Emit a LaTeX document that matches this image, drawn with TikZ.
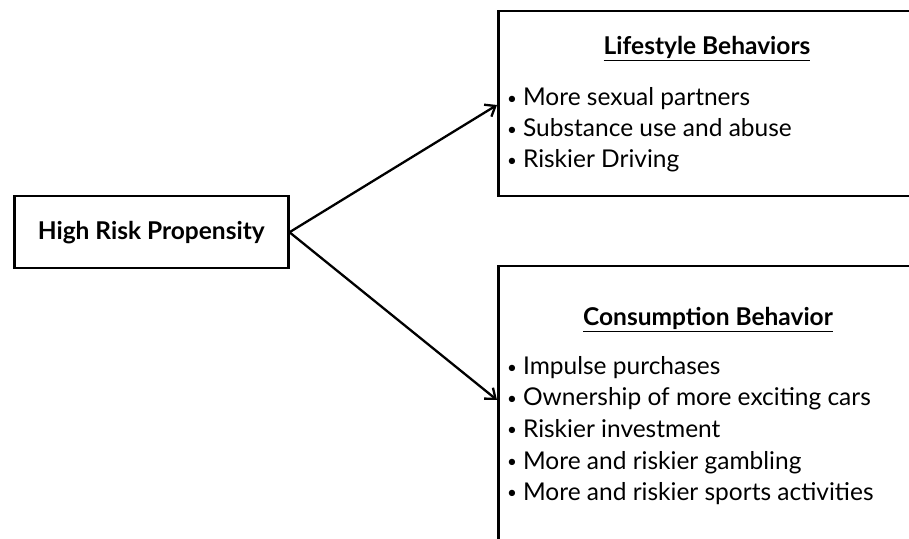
\documentclass[tikz,border=0pt]{standalone}
\usepackage{fontspec}
\setmainfont{Lato}
\usetikzlibrary{arrows.meta}
\newcommand{\bul}{{\fontsize{17}{20}\selectfont\raisebox{1.5pt}{•}}\hspace{6pt}}
\begin{document}
\begin{tikzpicture}[x=1pt,y=1pt,
  frame/.style={draw=black,line width=2.5pt,fill=white,inner sep=0pt,anchor=north west},
  item/.style={anchor=base west,inner sep=0pt,font=\fontsize{24.5}{28}\selectfont},
  title/.style={anchor=base,inner sep=0pt,font=\fontsize{24.5}{28}\selectfont\bfseries},
  conn/.style={line width=2.3pt,-{Straight Barb[length=9pt,width=14pt,line width=2.3pt]}}]
\useasboundingbox (0,0) rectangle (909,538);
\clip (0,0) rectangle (909,538);
\fill[white] (0,0) rectangle (909,538);
% left box
\node[frame,minimum width=274pt,minimum height=72pt,font=\fontsize{24.5}{28}\selectfont\bfseries] (hrp) at (13,343) {High Risk Propensity};
% top box
\node[frame,minimum width=420pt,minimum height=185pt] (life) at (497,528) {};
\node[title] (lifet) at (707,483) {\underline{Lifestyle Behaviors}};
\node[item] (l1) at (507,432) {\bul More sexual partners};
\node[item] (l2) at (507,401) {\bul Substance use and abuse};
\node[item] (l3) at (507,370) {\bul Riskier Driving};
% bottom box
\node[frame,minimum width=420pt,minimum height=290pt] (cons) at (497,273) {};
\node[title] (const) at (708,212) {\underline{Consumption Behavior}};
\node[item] (c1) at (507,163) {\bul Impulse purchases};
\node[item] (c2) at (507,132) {\bul Ownership of more exciting cars};
\node[item] (c3) at (507,101) {\bul Riskier investment};
\node[item] (c4) at (507,69) {\bul More and riskier gambling};
\node[item] (c5) at (507,38) {\bul More and riskier sports activities};
% connectors
\coordinate (le) at ([yshift=-95pt]life.north west);
\coordinate (ce) at ([yshift=-135pt]cons.north west);
\draw[conn] (hrp.east) -- (le);
\draw[conn] (hrp.east) -- (ce);
\end{tikzpicture}
\end{document}
